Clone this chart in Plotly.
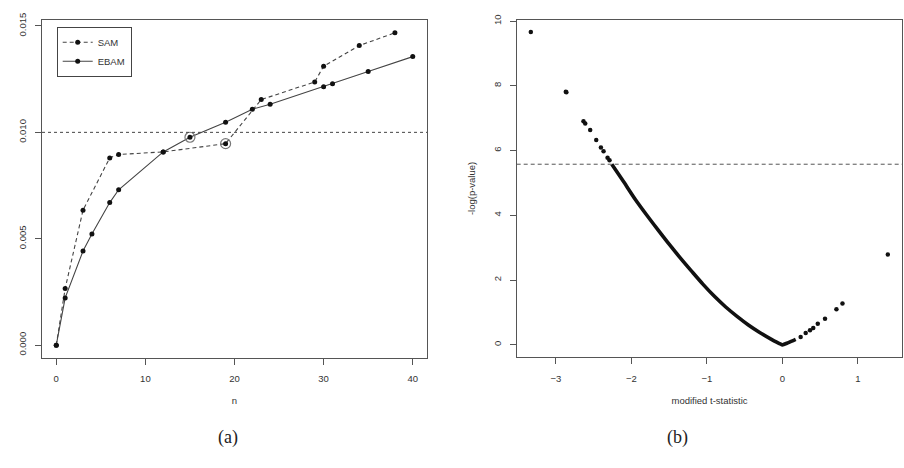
import plotly.graph_objects as go

# ---------------- data: panel (a) ----------------
sam_n = [0, 1, 3, 6, 7, 12, 19, 23, 29, 30, 34, 38]
sam_fdr = [0.0, 0.00266, 0.00634, 0.0088, 0.00896, 0.00908, 0.00947,
           0.01154, 0.01237, 0.01311, 0.01408, 0.01468]
ebam_n = [0, 1, 3, 4, 6, 7, 12, 15, 19, 22, 24, 30, 31, 35, 40]
ebam_fdr = [0.0, 0.00222, 0.00442, 0.00522, 0.0067, 0.0073, 0.00908, 0.00977,
            0.01048, 0.01109, 0.01132, 0.01214, 0.01228, 0.01286, 0.01356]
circled_n = [15, 19]
circled_fdr = [0.00977, 0.00947]
fdr_threshold = 0.010
a_xticks = [0, 10, 20, 30, 40]
a_yticks = [0.0, 0.005, 0.010, 0.015]
a_yticktext = ["0.000", "0.005", "0.010", "0.015"]

# ---------------- data: panel (b) ----------------
# dense part of the curve (reads as a continuous thick band)
dense_t = [-2.26, -2.10, -1.95, -1.80, -1.65, -1.50, -1.35, -1.20, -1.05,
           -0.90, -0.75, -0.60, -0.45, -0.30, -0.15, -0.02, 0.0, 0.08, 0.177]
dense_logp = [5.58, 5.03, 4.50, 4.02, 3.56, 3.11, 2.68, 2.27, 1.87,
              1.50, 1.17, 0.88, 0.615, 0.385, 0.18, 0.02, 0.0, 0.07, 0.17]
# isolated points
sparse_t = [-3.333, -2.869, -2.862, -2.635, -2.612, -2.546, -2.466, -2.404,
            -2.369, -2.316, -2.29, 0.243, 0.31, 0.367, 0.41, 0.47, 0.566,
            0.717, 0.797, 1.398]
sparse_logp = [9.667, 7.818, 7.80, 6.91, 6.84, 6.64, 6.33, 6.10,
               5.98, 5.78, 5.70, 0.24, 0.37, 0.45, 0.52, 0.65, 0.81,
               1.10, 1.28, 2.79]
pvalue_cutoff = 5.58
b_xticks = [-3, -2, -1, 0, 1]
b_yticks = [0, 2, 4, 6, 8, 10]

W, H = 904, 468
AX = "#555555"
TXT = "#333333"
FONT = "Liberation Sans, Arial, sans-serif"

fig = go.Figure()

# panel (a)
fig.add_trace(go.Scatter(
    x=sam_n, y=sam_fdr, name="SAM", mode="lines+markers",
    line=dict(color="#444444", width=1.1, dash="4px,3px"),
    marker=dict(color="#111111", size=5),
    xaxis="x", yaxis="y"))
fig.add_trace(go.Scatter(
    x=ebam_n, y=ebam_fdr, name="EBAM", mode="lines+markers",
    line=dict(color="#444444", width=1.1),
    marker=dict(color="#111111", size=5),
    xaxis="x", yaxis="y"))
fig.add_trace(go.Scatter(
    x=circled_n, y=circled_fdr, mode="markers", showlegend=False,
    marker=dict(symbol="circle-open", size=10, color="#777777",
                line=dict(width=1.2, color="#777777")),
    xaxis="x", yaxis="y"))

# panel (b)
fig.add_trace(go.Scatter(
    x=dense_t, y=dense_logp, mode="lines", showlegend=False,
    line=dict(color="#111111", width=3.6, shape="spline", smoothing=0.8),
    xaxis="x2", yaxis="y2"))
fig.add_trace(go.Scatter(
    x=sparse_t, y=sparse_logp, mode="markers", showlegend=False,
    marker=dict(color="#111111", size=4.5),
    xaxis="x2", yaxis="y2"))

common = dict(showline=True, mirror=True, linecolor=AX, linewidth=1,
              ticks="outside", ticklen=6, tickcolor=AX, tickwidth=1,
              showgrid=False, zeroline=False,
              tickfont=dict(family=FONT, size=9.5, color=TXT))

fig.update_layout(
    width=W, height=H,
    margin=dict(l=0, r=0, t=0, b=0),
    paper_bgcolor="white", plot_bgcolor="white",
    font=dict(family=FONT, color=TXT),
    xaxis=dict(domain=[42 / W, 427 / W], range=[-1.6, 41.6],
               tickvals=a_xticks, anchor="y", ticklabelstandoff=6,
               title=dict(text="n", standoff=14,
                          font=dict(family=FONT, size=9.5, color=TXT)),
               **common),
    yaxis=dict(domain=[1 - 356 / H, 1 - 13 / H], range=[-0.00059, 0.01529],
               tickvals=a_yticks, ticktext=a_yticktext, tickangle=-90,
               anchor="x", ticklabelstandoff=5, **common),
    xaxis2=dict(domain=[516.7 / W, 902.3 / W], range=[-3.52, 1.59],
                tickvals=b_xticks, anchor="y2", ticklabelstandoff=6,
                title=dict(text="modified t-statistic", standoff=14,
                           font=dict(family=FONT, size=9.5, color=TXT)),
                **common),
    yaxis2=dict(domain=[1 - 355.7 / H, 1 - 12.7 / H], range=[-0.386, 10.05],
                tickvals=b_yticks, tickangle=-90, anchor="x2",
                ticklabelstandoff=5,
                title=dict(text="-log(p-value)", standoff=14,
                           font=dict(family=FONT, size=9.5, color=TXT)),
                **common),
    legend=dict(x=56.7 / W, y=1 - 20 / H, xanchor="left", yanchor="top",
                bordercolor="#444444", borderwidth=1, bgcolor="white",
                font=dict(family=FONT, size=9.5, color=TXT),
                tracegroupgap=0, itemwidth=30),
    showlegend=True,
)

fig.add_shape(type="line", xref="x domain", yref="y", x0=0, x1=1,
              y0=fdr_threshold, y1=fdr_threshold,
              line=dict(color="#444444", width=1, dash="dot"))
fig.add_shape(type="line", xref="x2 domain", yref="y2", x0=0, x1=1,
              y0=pvalue_cutoff, y1=pvalue_cutoff,
              line=dict(color="#555555", width=1, dash="4px,3px"))

SERIF = "Liberation Serif, DejaVu Serif, serif"
fig.add_annotation(text="(a)", x=216 / W, y=1 - 450 / H, xref="paper", yref="paper",
                   showarrow=False, font=dict(family=SERIF, size=18, color="#222222"))
fig.add_annotation(text="(b)", x=690 / W, y=1 - 450 / H, xref="paper", yref="paper",
                   showarrow=False, font=dict(family=SERIF, size=18, color="#222222"))

fig.write_html("out.html")
